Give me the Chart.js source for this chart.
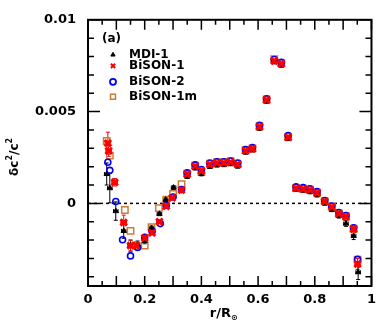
<!DOCTYPE html>
<html>
<head>
<meta charset="utf-8">
<script src="https://cdn.jsdelivr.net/npm/chart.js@4.4.0/dist/chart.umd.min.js"></script>
<style>
  html, body { margin: 0; padding: 0; background: #fff; }
</style>
</head>
<body>
<canvas id="canvas" width="382" height="327"></canvas>
<script>
// sound-speed differences dc^2/c^2 against fractional radius r/R
var mdiR = [0.066, 0.077, 0.098, 0.126, 0.150, 0.175, 0.200, 0.224, 0.252, 0.274, 0.302, 0.350, 0.378, 0.400, 0.430, 0.455, 0.479, 0.503, 0.528, 0.556, 0.580, 0.605, 0.630, 0.657, 0.682, 0.706, 0.734, 0.759, 0.783, 0.808, 0.835, 0.860, 0.885, 0.910, 0.937, 0.953];
var mdiDc2 = [0.00160, 0.00083, -0.00042, -0.00150, -0.00230, -0.00225, -0.00205, -0.00135, -0.00057, 0.00020, 0.00086, 0.00146, 0.00192, 0.00160, 0.00200, 0.00208, 0.00210, 0.00215, 0.00202, 0.00278, 0.00290, 0.00408, 0.00555, 0.00770, 0.00752, 0.00352, 0.00075, 0.00070, 0.00062, 0.00045, 0.00000, -0.00035, -0.00068, -0.00110, -0.00177, -0.00375];
var mdiErr = [0.0006, 0.0008, 0.0005, 0.0004, 0.0003, 0.0002, 0.00015, 0.00012, 0.0001, 0.0001, 0.0001, 0.0001, 0.0001, 0.0001, 0.0001, 0.0001, 0.0001, 0.0001, 0.0001, 0.0001, 0.0001, 0.0001, 0.0001, 0.0001, 0.0001, 0.0001, 0.0001, 0.0001, 0.0001, 0.0001, 0.0001, 0.0001, 0.00012, 0.00015, 0.0002, 0.0004];

var bison1R = [0.070, 0.073, 0.094, 0.126, 0.150, 0.170, 0.200, 0.226, 0.252, 0.276, 0.297, 0.330, 0.350, 0.378, 0.400, 0.430, 0.455, 0.479, 0.503, 0.528, 0.556, 0.580, 0.605, 0.630, 0.657, 0.682, 0.706, 0.734, 0.759, 0.783, 0.808, 0.835, 0.860, 0.885, 0.910, 0.937, 0.951];
var bison1Dc2 = [0.00328, 0.00286, 0.00115, -0.00104, -0.00230, -0.00230, -0.00188, -0.00160, -0.00100, -0.00016, 0.00030, 0.00073, 0.00160, 0.00203, 0.00177, 0.00213, 0.00220, 0.00220, 0.00224, 0.00213, 0.00286, 0.00297, 0.00417, 0.00563, 0.00776, 0.00760, 0.00360, 0.00083, 0.00078, 0.00073, 0.00057, 0.00010, -0.00020, -0.00057, -0.00073, -0.00140, -0.00330];
var bison1Err = [0.0006, 0.0003, 0.0002, 0.0004, 0.0003, 0.0002, 0.00015, 0.00012, 0.0001, 0.0001, 0.0001, 0.0001, 0.0001, 0.0001, 0.0001, 0.0001, 0.0001, 0.0001, 0.0001, 0.0001, 0.0001, 0.0001, 0.0001, 0.0001, 0.0001, 0.0001, 0.0001, 0.0001, 0.0001, 0.0001, 0.0001, 0.0001, 0.0001, 0.00012, 0.00015, 0.0002, 0.0003];

var bison2R = [0.070, 0.077, 0.098, 0.122, 0.150, 0.175, 0.200, 0.226, 0.255, 0.276, 0.300, 0.330, 0.350, 0.378, 0.400, 0.430, 0.455, 0.479, 0.503, 0.528, 0.556, 0.580, 0.605, 0.630, 0.657, 0.682, 0.706, 0.734, 0.759, 0.783, 0.808, 0.835, 0.860, 0.885, 0.910, 0.937, 0.951];
var bison2Dc2 = [0.00224, 0.00180, 0.00010, -0.00198, -0.00286, -0.00240, -0.00185, -0.00150, -0.00110, -0.00010, 0.00035, 0.00075, 0.00166, 0.00210, 0.00184, 0.00220, 0.00227, 0.00227, 0.00231, 0.00220, 0.00293, 0.00304, 0.00425, 0.00570, 0.00784, 0.00768, 0.00370, 0.00090, 0.00086, 0.00080, 0.00064, 0.00016, -0.00014, -0.00050, -0.00066, -0.00133, -0.00305];

var bison1mR = [0.066, 0.077, 0.130, 0.150, 0.171, 0.200, 0.224, 0.250, 0.276, 0.300, 0.330, 0.350, 0.378, 0.400, 0.430, 0.455, 0.479, 0.503, 0.528, 0.556, 0.580, 0.605, 0.630, 0.657, 0.682, 0.706, 0.734, 0.759, 0.783, 0.808, 0.835, 0.860, 0.885, 0.910, 0.937, 0.951];
var bison1mDc2 = [0.00340, 0.00260, -0.00036, -0.00150, -0.00230, -0.00230, -0.00130, -0.00026, 0.00020, 0.00052, 0.00104, 0.00162, 0.00206, 0.00172, 0.00216, 0.00224, 0.00224, 0.00230, 0.00216, 0.00290, 0.00300, 0.00420, 0.00566, 0.00786, 0.00764, 0.00362, 0.00084, 0.00080, 0.00074, 0.00058, 0.00012, -0.00018, -0.00055, -0.00070, -0.00138, -0.00307];

var seriesNames = ['MDI-1', 'BiSON-1', 'BiSON-2', 'BiSON-1m'];
var xTickValues = [0, 0.2, 0.4, 0.6, 0.8, 1];
var yTickValues = [0, 0.005, 0.01];

function points(rs, ys) {
  return rs.map(function (r, i) { return { x: r, y: ys[i] }; });
}

var tickFont = { family: 'DejaVu Sans', weight: 'bold', size: 13 };

// inside ticks, frame, zero line and error bars; axis titles and key
var framePlugin = {
  id: 'frame',
  beforeDatasetsDraw: function (chart) {
    var ctx = chart.ctx, a = chart.chartArea;
    var xs = chart.scales.x, ys = chart.scales.y;
    ctx.save();
    ctx.strokeStyle = '#000';
    // dotted zero line
    ctx.lineWidth = 1.5;
    ctx.setLineDash([3, 3]);
    ctx.beginPath();
    ctx.moveTo(a.left, ys.getPixelForValue(0));
    ctx.lineTo(a.right, ys.getPixelForValue(0));
    ctx.stroke();
    ctx.setLineDash([]);
    // ticks
    ctx.lineWidth = 1.5;
    ctx.beginPath();
    for (var i = 0; i <= 20; i++) {
      var px = xs.getPixelForValue(i * 0.05);
      var len = i % 2 === 0 ? 10 : 5;
      ctx.moveTo(px, a.bottom); ctx.lineTo(px, a.bottom - len);
      ctx.moveTo(px, a.top); ctx.lineTo(px, a.top + len);
    }
    for (var j = -4; j <= 10; j++) {
      var py = ys.getPixelForValue(j * 0.001);
      var ylen = j % 5 === 0 ? 12 : 6;
      ctx.moveTo(a.left, py); ctx.lineTo(a.left + ylen, py);
      ctx.moveTo(a.right, py); ctx.lineTo(a.right - ylen, py);
    }
    ctx.stroke();
    ctx.lineWidth = 2;
    ctx.strokeRect(a.left, a.top, a.right - a.left, a.bottom - a.top);
    // error bars
    chart.data.datasets.forEach(function (ds) {
      ctx.strokeStyle = ds.borderColor;
      ctx.lineWidth = 1;
      ctx.beginPath();
      ds.data.forEach(function (p, k) {
        var cx = xs.getPixelForValue(p.x), cy = ys.getPixelForValue(p.y);
        var e = ds.errY ? ds.errY[k] : 0;
        if (e) {
          var t = ys.getPixelForValue(p.y + e), b = ys.getPixelForValue(p.y - e);
          ctx.moveTo(cx, t); ctx.lineTo(cx, b);
          ctx.moveTo(cx - 2, t); ctx.lineTo(cx + 2, t);
          ctx.moveTo(cx - 2, b); ctx.lineTo(cx + 2, b);
        }
        if (ds.errX) {
          var l = xs.getPixelForValue(p.x - ds.errX), r = xs.getPixelForValue(p.x + ds.errX);
          ctx.moveTo(l, cy); ctx.lineTo(r, cy);
          ctx.moveTo(l, cy - 2); ctx.lineTo(l, cy + 2);
          ctx.moveTo(r, cy - 2); ctx.lineTo(r, cy + 2);
        }
      });
      ctx.stroke();
    });
    ctx.restore();
  },
  afterDraw: function (chart) {
    var ctx = chart.ctx, a = chart.chartArea;
    ctx.save();
    ctx.textBaseline = 'middle';
    ctx.textAlign = 'left';
    ctx.fillStyle = '#000';
    ctx.font = 'bold 12px "DejaVu Sans"';
    ctx.fillText('(a)', a.left + 14, a.top + 19);
    var rows = [35, 46, 62, 77];
    chart.data.datasets.forEach(function (ds, i) {
      ctx.strokeStyle = ds.borderColor;
      ctx.fillStyle = ds.backgroundColor;
      ctx.lineWidth = ds.legendBorder;
      Chart.helpers.drawPoint(ctx, {
        pointStyle: ds.pointStyle, radius: ds.legendRadius,
        borderWidth: ds.legendBorder, rotation: 0
      }, a.left + 25, a.top + rows[i]);
      ctx.fillStyle = '#000';
      ctx.font = 'bold 12px "DejaVu Sans"';
      ctx.fillText(ds.label, a.left + 41, a.top + rows[i]);
    });
    // x title r/R_sun
    ctx.fillStyle = '#000';
    ctx.font = 'bold 13px "DejaVu Sans"';
    var cx = (a.left + a.right) / 2 - 20;
    ctx.fillText('r/R', cx, 314);
    var w = ctx.measureText('r/R').width;
    ctx.font = 'bold 8px "DejaVu Sans"';
    ctx.fillText('\u2299', cx + w, 318);
    // y title dc^2/c^2
    ctx.translate(15, (a.top + a.bottom) / 2 + 4);
    ctx.rotate(-Math.PI / 2);
    var parts = [['\u03b4c', 12, 0], ['2', 8, -5], ['/c', 12, 0], ['2', 8, -5]];
    var total = 0;
    parts.forEach(function (p) { ctx.font = 'bold ' + p[1] + 'px "DejaVu Sans"'; total += ctx.measureText(p[0]).width; });
    var x0 = -total / 2;
    parts.forEach(function (p) {
      ctx.font = 'bold ' + p[1] + 'px "DejaVu Sans"';
      ctx.fillText(p[0], x0, p[2]);
      x0 += ctx.measureText(p[0]).width;
    });
    ctx.restore();
  }
};

new Chart(document.getElementById('canvas').getContext('2d'), {
  type: 'scatter',
  data: {
    datasets: [
      {
        label: seriesNames[0], data: points(mdiR, mdiDc2), errY: mdiErr, errX: 0.008,
        pointStyle: 'triangle', pointRadius: 3, legendRadius: 2.5, borderWidth: 1, legendBorder: 1,
        borderColor: '#000', backgroundColor: '#000', order: 2
      },
      {
        label: seriesNames[1], data: points(bison1R, bison1Dc2), errY: bison1Err, errX: 0.01,
        pointStyle: 'crossRot', pointRadius: 4.5, legendRadius: 3, borderWidth: 3, legendBorder: 2,
        borderColor: '#ff0000', backgroundColor: '#ff0000', order: 1
      },
      {
        label: seriesNames[2], data: points(bison2R, bison2Dc2),
        pointStyle: 'circle', pointRadius: 3, legendRadius: 3, borderWidth: 1.6, legendBorder: 1.8,
        borderColor: '#0000ff', backgroundColor: 'rgba(0,0,0,0)', order: 3
      },
      {
        label: seriesNames[3], data: points(bison1mR, bison1mDc2),
        pointStyle: 'rect', pointRadius: 4.5, legendRadius: 3.5, borderWidth: 1.5, legendBorder: 1.5,
        borderColor: '#c87d35', backgroundColor: 'rgba(0,0,0,0)', order: 4
      }
    ]
  },
  options: {
    responsive: false,
    animation: false,
    layout: { padding: { top: 7, right: 8, left: 0, bottom: 0 } },
    plugins: { legend: { display: false }, tooltip: { enabled: false } },
    scales: {
      x: {
        type: 'linear', min: 0, max: 1,
        grid: { display: false, drawTicks: false },
        border: { display: false },
        afterBuildTicks: function (s) { s.ticks = xTickValues.map(function (v) { return { value: v }; }); },
        afterFit: function (s) { s.height = 41; },
        ticks: { padding: 6, color: '#000', font: tickFont, maxRotation: 0, autoSkip: false,
          callback: function (v) { return String(v); } }
      },
      y: {
        type: 'linear', min: -0.0045, max: 0.01,
        grid: { display: false, drawTicks: false },
        border: { display: false },
        afterBuildTicks: function (s) { s.ticks = yTickValues.map(function (v) { return { value: v }; }); },
        afterFit: function (s) { s.width = 88; },
        ticks: { padding: 12, color: '#000', font: tickFont, autoSkip: false,
          callback: function (v) { return String(v); } }
      }
    }
  },
  plugins: [framePlugin]
});
</script>
</body>
</html>
